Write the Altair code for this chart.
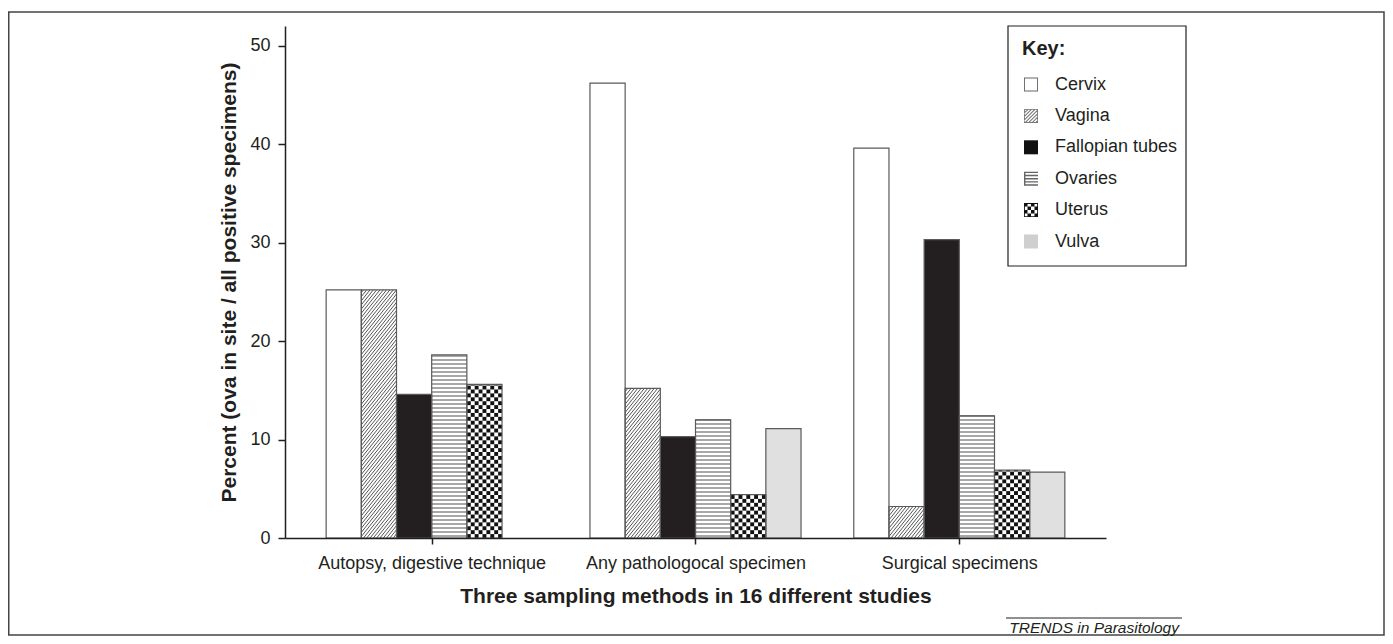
import json
import altair as alt
import pandas as pd

# ---------------- data ----------------
categories = ["Autopsy, digestive technique", "Any pathologocal specimen", "Surgical specimens"]
series = ["Cervix", "Vagina", "Fallopian tubes", "Ovaries", "Uterus", "Vulva"]
autopsy = [25.2, 25.2, 14.6, 18.6, 15.6, 0.0]
pathological = [46.2, 15.2, 10.3, 12.0, 4.4, 11.1]
surgical = [39.6, 3.2, 30.3, 12.4, 6.9, 6.7]
y_ticks = [0, 10, 20, 30, 40, 50]
x_title = "Three sampling methods in 16 different studies"
y_title = "Percent (ova in site / all positive specimens)"
legend_title = "Key:"
source_label = "TRENDS in Parasitology"

rows = []
for ci, vals in enumerate([autopsy, pathological, surgical]):
    for si, v in enumerate(vals):
        rows.append({"category": categories[ci], "ci": ci, "series": series[si], "si": si, "value": v})
df = pd.DataFrame(rows)

# ---------------- style ----------------
FONT = "Liberation Sans"
INK = "#231f20"
GROUP_STEP = 7.5          # x units between group centres (bar width = 1 unit)
W, H = 821, 512
YMAX = 52
PX_X = W / 23.34          # px per x unit
PX_Y = H / YMAX           # px per y unit

# legend swatch paths (unit square -1..1)
def rect_path(x0, y0, x1, y1):
    return f"M{x0:.3f},{y0:.3f}H{x1:.3f}V{y1:.3f}H{x0:.3f}Z"

def hole_path(x0, y0, x1, y1):
    return f"M{x0:.3f},{y0:.3f}V{y1:.3f}H{x1:.3f}V{y0:.3f}Z"

def ring(t=0.13):
    return rect_path(-1, -1, 1, 1) + hole_path(-1 + t, -1 + t, 1 - t, 1 - t)

def clip(poly):
    def clip_edge(pts, inside, inter):
        out = []
        for i in range(len(pts)):
            cur, prev = pts[i], pts[i - 1]
            if inside(cur):
                if not inside(prev):
                    out.append(inter(prev, cur))
                out.append(cur)
            elif inside(prev):
                out.append(inter(prev, cur))
        return out

    def ix(a, b, xv):
        t = (xv - a[0]) / (b[0] - a[0])
        return (xv, a[1] + t * (b[1] - a[1]))

    def iy(a, b, yv):
        t = (yv - a[1]) / (b[1] - a[1])
        return (a[0] + t * (b[0] - a[0]), yv)

    pts = poly
    pts = clip_edge(pts, lambda p: p[0] >= -1, lambda a, b: ix(a, b, -1))
    if pts:
        pts = clip_edge(pts, lambda p: p[0] <= 1, lambda a, b: ix(a, b, 1))
    if pts:
        pts = clip_edge(pts, lambda p: p[1] >= -1, lambda a, b: iy(a, b, -1))
    if pts:
        pts = clip_edge(pts, lambda p: p[1] <= 1, lambda a, b: iy(a, b, 1))
    return pts

def poly_path(pts):
    area = sum(pts[i][0] * pts[(i + 1) % len(pts)][1] - pts[(i + 1) % len(pts)][0] * pts[i][1]
               for i in range(len(pts)))
    if area < 0:
        pts = pts[::-1]
    return "M" + "L".join(f"{x:.3f},{y:.3f}" for x, y in pts) + "Z"

hatch = ring(0.12)
for i in range(9):
    c0 = -2.0 + i * 0.5
    p = clip([(-3, c0 + 3), (3, c0 - 3), (3, c0 + 0.22 - 3), (-3, c0 + 0.22 + 3)])
    if len(p) >= 3:
        hatch += poly_path(p)

stripes = rect_path(-1, -1, -0.8, 1)
for i in range(5):
    y0 = -1 + i * 0.45
    stripes += rect_path(-1, y0, 1, y0 + 0.2)

checker = ring(0.12)
for r in range(4):
    for c in range(4):
        if (r + c) % 2 == 0:
            checker += rect_path(-1 + c * 0.5, -1 + r * 0.5, -0.5 + c * 0.5, -0.5 + r * 0.5)

solid = rect_path(-1, -1, 1, 1)
swatch_paths = [ring(0.13), hatch, solid, stripes, checker, solid]
swatch_colors = ["#666666", "#777777", "#111111", "#666666", "#111111", "#cfcfcf"]
bar_fills = ["#ffffff", "#ffffff", INK, "#ffffff", "#ffffff", "#e0e0e0"]

# ---------------- scales / axes ----------------
xs = alt.Scale(domain=[-4.17, 19.17], nice=False, zero=False)
ys = alt.Scale(domain=[0, YMAX], nice=False, zero=True)
label_expr = f"{json.dumps(categories)}[round(datum.value / {GROUP_STEP})]"
xaxis = alt.Axis(values=[0, GROUP_STEP, 2 * GROUP_STEP], labelExpr=label_expr, grid=False,
                 tickSize=6, labelPadding=10, titlePadding=13, labelFontSize=18, titleFontSize=21,
                 labelFont=FONT, titleFont=FONT, labelColor=INK, titleColor=INK,
                 domainColor=INK, tickColor=INK, domainWidth=1.5, tickWidth=1.5,
                 labelOverlap=False, labelLimit=500, titleFontWeight="bold", zindex=1)
yaxis = alt.Axis(values=y_ticks, format="d", grid=False, tickSize=7, labelPadding=8,
                 titlePadding=10, labelFontSize=18, titleFontSize=21, labelFont=FONT,
                 titleFont=FONT, labelColor=INK, titleColor=INK, domainColor=INK,
                 tickColor=INK, domainWidth=1.5, tickWidth=1.5, titleFontWeight="bold", zindex=1)

def X(f):
    return alt.X(f, type="quantitative", scale=xs, axis=xaxis, title=x_title)

def Y(f):
    return alt.Y(f, type="quantitative", scale=ys, axis=yaxis, title=y_title)

base = alt.Chart(df).transform_calculate(
    x0=f"datum.ci * {GROUP_STEP} + datum.si - 3",
    x1="datum.x0 + 1",
    zero="0",
)

bars_fill = base.transform_calculate(
    fillc=f"{json.dumps(bar_fills)}[datum.si]"
).mark_rect(strokeWidth=0).encode(
    x=X("x0"), x2="x1", y=Y("value"), y2="zero",
    fill=alt.Fill("fillc:N", scale=None),
)

# diagonal hatching (Vagina)
K = PX_X * 1.25 / PX_Y
STEP_V = 0.42
hatch_layer = base.transform_filter("datum.si == 1 && datum.value > 0").transform_calculate(
    cs=f"sequence(-{K:.4f}, datum.value, {STEP_V})"
).transform_flatten(["cs"], as_=["c"]).transform_calculate(
    ya="max(datum.c, 0)",
    yb=f"min(datum.c + {K:.4f}, datum.value)",
).transform_filter("datum.yb > datum.ya").transform_calculate(
    xa=f"datum.x0 + (datum.ya - datum.c) / {K:.4f}",
    xb=f"datum.x0 + (datum.yb - datum.c) / {K:.4f}",
).mark_rule(color="#555555", strokeWidth=1.0).encode(
    x=X("xa"), x2="xb", y=Y("ya"), y2="yb"
)

# horizontal stripes (Ovaries)
STEP_O = 4.0 / PX_Y
stripe_layer = base.transform_filter("datum.si == 3 && datum.value > 0").transform_calculate(
    ls=f"sequence({STEP_O / 2:.4f}, datum.value, {STEP_O:.4f})"
).transform_flatten(["ls"], as_=["ly"]).mark_rule(color="#8a8a8a", strokeWidth=1.7).encode(
    x=X("x0"), x2="x1", y=Y("ly")
)

# checkerboard (Uterus)
NC = 9
CH = (PX_X / NC) / PX_Y
checker_layer = base.transform_filter("datum.si == 4 && datum.value > 0").transform_calculate(
    rs=f"sequence(0, ceil(datum.value / {CH:.4f}))"
).transform_flatten(["rs"], as_=["r"]).transform_calculate(
    cl=f"sequence(0, {NC})"
).transform_flatten(["cl"], as_=["c"]).transform_filter(
    "(datum.r + datum.c) % 2 == 0"
).transform_calculate(
    cx0=f"datum.x0 + datum.c / {NC}",
    cx1=f"datum.x0 + (datum.c + 1) / {NC}",
    cy0=f"datum.r * {CH:.4f}",
    cy1=f"min((datum.r + 1) * {CH:.4f}, datum.value)",
).transform_filter("datum.cy1 > datum.cy0").mark_rect(color="#111111", strokeWidth=0).encode(
    x=X("cx0"), x2="cx1", y=Y("cy0"), y2="cy1"
)

bars_outline = base.transform_filter("datum.value > 0").mark_rect(
    fill="#ffffff", fillOpacity=0, stroke="#5a5a5a", strokeWidth=1.2
).encode(x=X("x0"), x2="x1", y=Y("value"), y2="zero")

legend = alt.Legend(
    title=legend_title, orient="none", legendX=737, legendY=12.5, direction="vertical",
    titleFont=FONT, titleFontSize=20, titleFontWeight="bold", titleColor=INK, titlePadding=17,
    labelFont=FONT, labelFontSize=18, labelColor=INK, labelOffset=15, labelLimit=300,
    rowPadding=13.4, symbolSize=196, symbolStrokeWidth=0, symbolOpacity=1, padding=0,
    zindex=2,
)
legend_layer = base.transform_filter("datum.value < -1").mark_point(filled=True).encode(
    x=X("x0"), y=Y("value"),
    color=alt.Color("series:N", scale=alt.Scale(domain=series, range=swatch_colors), legend=legend),
    shape=alt.Shape("series:N", scale=alt.Scale(domain=series, range=swatch_paths), legend=legend),
)

one = alt.Data(values=[{}])
outer_box = alt.Chart(one).mark_rect(fill="#ffffff", fillOpacity=0, stroke="#444444", strokeWidth=1.5).encode(
    x=alt.value(-276.25), x2=alt.value(1099), y=alt.value(-14), y2=alt.value(609)
)
key_box = alt.Chart(one).mark_rect(fill="#ffffff", fillOpacity=0, stroke=INK, strokeWidth=1.2).encode(
    x=alt.value(723), x2=alt.value(901), y=alt.value(0), y2=alt.value(240)
)
source_rule = alt.Chart(one).mark_rule(color=INK, strokeWidth=1).encode(
    x=alt.value(721), x2=alt.value(897), y=alt.value(592)
)
source_text = alt.Chart(one).mark_text(
    align="right", baseline="alphabetic", font=FONT, fontStyle="italic", fontSize=15.5, color=INK
).encode(x=alt.value(894), y=alt.value(607), text=alt.value(source_label))

chart = alt.layer(
    outer_box, key_box, bars_fill, hatch_layer, stripe_layer, checker_layer, bars_outline,
    legend_layer, source_rule, source_text,
).properties(
    width=W, height=H,
    autosize=alt.AutoSizeParams(type="none"),
    padding={"left": 277, "top": 18, "right": 279, "bottom": 98},
    background="#ffffff",
).configure_view(strokeWidth=0)

chart.save("out.html", embed_options={"renderer": "svg", "actions": False})
